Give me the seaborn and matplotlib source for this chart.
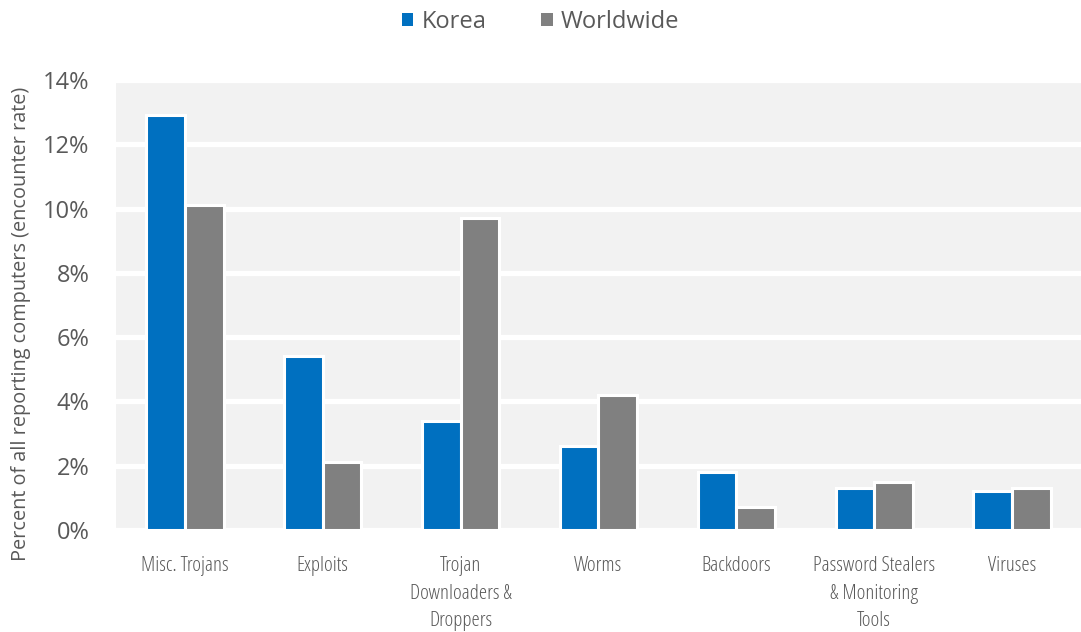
import matplotlib
matplotlib.use("Agg")
import matplotlib.pyplot as plt
import seaborn as sns
import pandas as pd
from matplotlib.ticker import FuncFormatter
from matplotlib.patches import Patch

categories = ["Misc. Trojans", "Exploits", "Trojan\nDownloaders &\nDroppers", "Worms",
              "Backdoors", "Password Stealers\n& Monitoring\nTools", "Viruses"]
korea = [12.9, 5.4, 3.4, 2.6, 1.8, 1.3, 1.2]
worldwide = [10.1, 2.1, 9.7, 4.2, 0.7, 1.5, 1.3]
series = ["Korea", "Worldwide"]
colors = ["#0070C0", "#808080"]
y_ticks = [0, 2, 4, 6, 8, 10, 12, 14]

df = pd.DataFrame({
    "category": categories * 2,
    "series": [series[0]] * len(categories) + [series[1]] * len(categories),
    "value": korea + worldwide,
})

sns.set_theme(style="white")
plt.rcParams["font.family"] = ["Open Sans", "DejaVu Sans"]

fig = plt.figure(figsize=(10.81, 6.32), dpi=100)
ax = fig.add_axes([0.1073, 0.1614, 0.8927, 0.712])
ax.set_facecolor("#F2F2F2")

sns.barplot(data=df, x="category", y="value", hue="series", order=categories,
            hue_order=series, palette=colors, width=0.56, ax=ax,
            edgecolor="white", linewidth=2.2, saturation=1, legend=False, zorder=3)

ax.set_ylim(0, 14)
ax.set_yticks(y_ticks)
ax.yaxis.set_major_formatter(FuncFormatter(lambda v, p: f"{int(v)}%"))
ax.grid(axis="y", color="white", linewidth=3.8, zorder=1)
ax.set_axisbelow(True)
for s in ax.spines.values():
    s.set_visible(False)
ax.tick_params(axis="y", labelsize=17, colors="#595959", length=0, pad=19)
ax.tick_params(axis="x", labelsize=15, colors="#595959", length=0, pad=19)
for lbl in ax.get_xticklabels():
    lbl.set_linespacing(1.48)
    lbl.set_fontstretch("condensed")
ax.set_xlabel("")
ax.set_ylabel("Percent of all reporting computers (encounter rate)", fontsize=14.3,
              color="#595959")
ax.yaxis.set_label_coords(-0.088, 0.458)
ax.set_xlim(-0.5, len(categories) - 0.5)

handles = [Patch(facecolor=c, edgecolor="none") for c in colors]
fig.legend(handles, series, loc="upper center", bbox_to_anchor=(0.5, 1.018), ncol=2,
           frameon=False, fontsize=17, handlelength=0.5, handleheight=0.5,
           handletextpad=0.35, columnspacing=2.3, labelcolor="#595959")

fig.savefig("out.png", dpi=100)
